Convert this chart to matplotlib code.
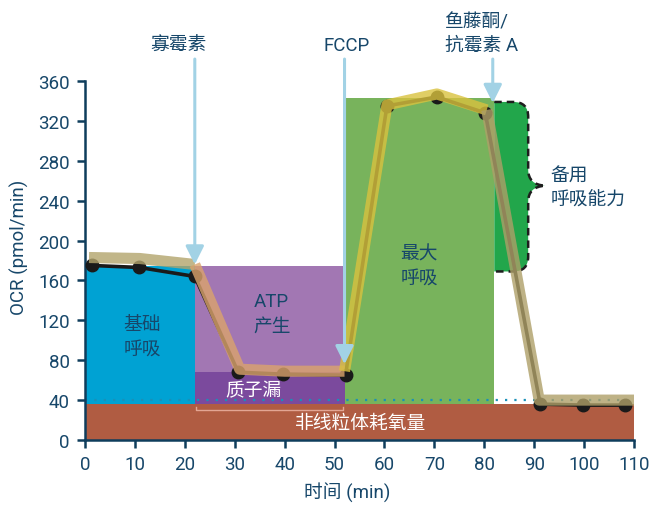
import matplotlib
matplotlib.use("Agg")
import matplotlib.pyplot as plt
from matplotlib.patches import Rectangle, PathPatch
from matplotlib.path import Path

plt.rcParams['font.family'] = ['Roboto', 'Noto Sans CJK SC', 'DejaVu Sans']

# ---- data ----
time_min = [1.5, 10.9, 22.0, 30.7, 39.6, 52.2, 60.5, 70.5, 80.2, 91.2, 99.8, 108.2]
ocr = [175, 173, 164, 68, 66, 65, 335, 344, 328, 36, 35, 35]

band_time = [0.8, 11, 22, 31, 40, 52, 60.5, 70.5, 80.5, 91, 100, 110]
band_ocr = [183, 182, 176, 71, 69, 69, 336, 347, 331, 40, 40, 40]

injection_names = ['寡霉素', 'FCCP', '鱼藤酮/\n抗霉素 A']
injection_times = [22.0, 52.0, 81.7]
injection_tips = [176, 76, 338]

nonmito_level = 36
leak_level = 68
basal_level = 174
max_level = 343
spare_end = 88.8
spare_top = 339
spare_bottom = 169

x_ticks = list(range(0, 111, 10))
y_ticks = list(range(0, 361, 40))

# ---- colours ----
navy = '#17476a'
axis_col = '#0f3d5c'
c_blue = '#00a2d3'
c_purple = '#a277b3'
c_dpurple = '#7b4a9d'
c_green = '#78b35c'
c_dgreen = '#22a64b'
c_red = '#b05c42'
c_arrow = '#a2d2e5'

fig = plt.figure(figsize=(6.52, 5.06), dpi=100)
ax = fig.add_axes([85/652, 1-441/506, 549/652, 359/506])
ax.set_xlim(0, 110)
ax.set_ylim(0, 360)

t_oligo, t_fccp, t_rot = injection_times

# regions
ax.add_patch(Rectangle((0, 0), 110, nonmito_level, color=c_red, lw=0, zorder=1))
ax.add_patch(Rectangle((0, nonmito_level), t_oligo, basal_level - nonmito_level, color=c_blue, lw=0, zorder=1))
ax.add_patch(Rectangle((t_oligo, leak_level), t_fccp - t_oligo, basal_level - leak_level, color=c_purple, lw=0, zorder=1))
ax.add_patch(Rectangle((t_oligo, nonmito_level), t_fccp - t_oligo, leak_level - nonmito_level, color=c_dpurple, lw=0, zorder=1))
ax.add_patch(Rectangle((t_fccp, nonmito_level), t_rot + 0.3 - t_fccp, max_level - nonmito_level, color=c_green, lw=0, zorder=1))

# spare capacity shape
x0 = t_rot + 0.3
x1 = spare_end
rx, ry = 3.0, 15
ymid = (spare_top + spare_bottom) / 2 + 1
tipx = 92.2
verts = [(x0, spare_top), (x1 - rx, spare_top), (x1, spare_top), (x1, spare_top - ry),
         (x1, ymid + 16), (x1, ymid + 1), (tipx, ymid),
         (x1, ymid - 1), (x1, ymid - 16),
         (x1, spare_bottom + ry), (x1, spare_bottom), (x1 - rx, spare_bottom),
         (x0, spare_bottom)]
codes = [Path.MOVETO, Path.LINETO, Path.CURVE3, Path.CURVE3,
         Path.LINETO, Path.CURVE3, Path.CURVE3,
         Path.CURVE3, Path.CURVE3,
         Path.LINETO, Path.CURVE3, Path.CURVE3,
         Path.LINETO]
path = Path(verts, codes)
ax.add_patch(PathPatch(Path(verts + [(x0, spare_top)], codes + [Path.CLOSEPOLY]),
                       facecolor=c_dgreen, edgecolor='none', zorder=1))
ax.add_patch(PathPatch(path, facecolor='none', edgecolor='#1e1e1e', lw=1.8,
                       linestyle=(0, (3, 2)), zorder=2, clip_on=False))

# dotted non-mito line
ax.plot([0, 110], [40, 40], linestyle=(0, (1, 3.2)), color='#1a90b8', lw=1.6, zorder=2)

# proton-leak bracket
ax.plot([t_oligo + 0.2, t_oligo + 0.2, t_fccp - 0.3, t_fccp - 0.3], [33, 30, 30, 33],
        color='#e3a593', lw=1.0, zorder=2)

# region labels
txt = dict(fontsize=13.5, ha='center', va='center', linespacing=1.45, zorder=3)
ax.text(11.5, 104, '基础\n呼吸', color=navy, **txt)
ax.text(37.4, 127, 'ATP\n产生', color=navy, **txt)
ax.text(33.7, 50, '质子漏', color='white', **txt)
ax.text(66.9, 175, '最大\n呼吸', color=navy, **txt)
ax.text(55.2, 17, '非线粒体耗氧量', color='white', **txt)
ax.text(93.2, 253, '备用\n呼吸能力', color=navy, fontsize=13.5, ha='left', va='center',
        linespacing=1.45, zorder=3, clip_on=False)

# data line and points
ax.plot(time_min, ocr, color='#1a1a1a', lw=2.6, solid_joinstyle='round', zorder=4)
ax.plot(time_min, ocr, 'o', color='#1a1a1a', ms=9, zorder=4)

# translucent band
seg_colors = ['#b2a46c', '#dba36c', '#d9c23e', '#ae9f68']
seg_bounds = [(0, 3), (2, 6), (5, 9), (8, 12)]
for (a, b), c in zip(seg_bounds, seg_colors):
    ax.plot(band_time[a:b], band_ocr[a:b], color=c, lw=8, alpha=0.8,
            solid_capstyle='butt', solid_joinstyle='round', zorder=5)

# injection arrows and labels
for name, t, tip in zip(injection_names, injection_times, injection_tips):
    ax.annotate('', xy=(t, tip), xytext=(t, 382), xycoords='data',
                arrowprops=dict(arrowstyle='-|>,head_length=1.1,head_width=0.55',
                                color=c_arrow, lw=2.2, shrinkA=0, shrinkB=0),
                annotation_clip=False, zorder=6)
ax.text(18.8, 396, injection_names[0], color=navy, fontsize=13.5, ha='center', va='center', clip_on=False)
ax.text(52.5, 396, injection_names[1], color=navy, fontsize=13.5, ha='center', va='center', clip_on=False)
ax.text(72.1, 408, injection_names[2], color=navy, fontsize=13.5, ha='left', va='center',
        linespacing=1.4, clip_on=False)

# axes styling
for s in ['top', 'right']:
    ax.spines[s].set_visible(False)
for s in ['left', 'bottom']:
    ax.spines[s].set_color(axis_col)
    ax.spines[s].set_linewidth(1.8)
ax.set_xticks(x_ticks)
ax.set_yticks(y_ticks)
ax.tick_params(axis='both', colors=axis_col, labelcolor=navy, labelsize=13.5,
               length=6, width=1.8, direction='out', pad=5)
ax.set_xlabel('时间 (min)', fontsize=13.5, color=navy)
ax.set_ylabel('OCR (pmol/min)', fontsize=13.5, color=navy)
ax.xaxis.set_label_coords(0.477, -0.118)
ax.yaxis.set_label_coords(-0.102, 0.54)

fig.savefig('out.png', dpi=100)
